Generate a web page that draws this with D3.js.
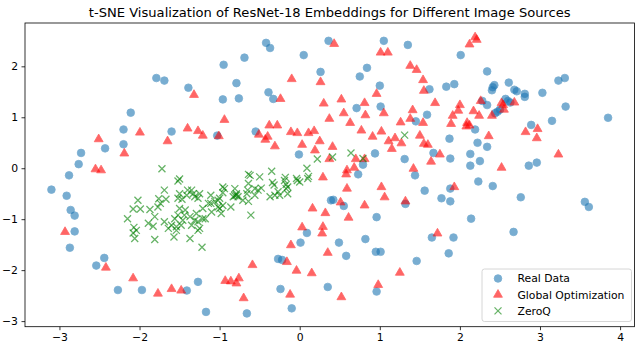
<!DOCTYPE html>
<html>
<head>
<meta charset="utf-8">
<script src="https://cdn.jsdelivr.net/npm/d3@7"></script>
<style>
  body { margin: 0; background: #fff; }
  text { font-family: "DejaVu Sans", sans-serif; fill: #000; }
</style>
</head>
<body>
<div id="chart"></div>
<script>
var width = 640;
var height = 348;
var margin = {left: 25, right: 5.5, top: 23, bottom: 21.3};

var title = "t-SNE Visualization of ResNet-18 Embeddings for Different Image Sources";
var seriesNames = ["Real Data", "Global Optimization", "ZeroQ"];
var xTicks = [-3, -2, -1, 0, 1, 2, 3, 4];
var yTicks = [-3, -2, -1, 0, 1, 2];

// Real Data embeddings
var realData = [
  [-1.79,1.77],[-1.69,1.72],[-2.11,1.09],[-2.20,0.76],[-1.60,0.72],[-2.43,0.39],[-2.20,0.47],[-2.73,0.30],[-2.76,0.08],[-2.88,-0.14],
  [-0.42,2.46],[-0.37,2.36],[0.36,2.50],[-0.69,2.17],[-0.95,2.03],[0.05,2.22],[0.26,1.89],[-1.39,1.58],[-0.79,1.67],[-0.39,1.49],
  [-0.33,1.36],[-0.96,1.35],[-0.76,1.37],[-0.55,0.72],[-1.03,0.64],[-0.01,0.27],
  [1.05,2.50],[1.35,2.42],[2.01,2.22],[0.84,1.97],[0.75,1.80],[1.00,1.62],[1.62,1.55],[1.83,1.60],[1.93,1.65],[0.71,1.18],
  [1.01,1.21],[1.59,1.05],[1.45,0.92],[2.19,0.76],[1.87,0.58],[2.22,0.50],[0.94,0.29],[1.67,0.30],[1.31,0.18],[1.88,0.19],
  [2.13,0.28],[2.25,0.14],[2.13,0.05],[0.79,0.07],[0.73,-0.12],[1.44,-0.14],[2.23,-0.26],
  [2.34,1.90],[3.23,1.72],[3.31,1.77],[2.43,1.63],[2.41,1.59],[2.40,1.53],[2.61,1.68],[2.68,1.54],[2.71,1.51],[2.81,1.46],
  [2.81,1.40],[3.03,1.48],[2.57,1.36],[2.60,1.32],[2.63,1.29],[2.28,1.32],[2.34,1.24],[3.32,1.21],[2.50,1.15],[2.47,1.11],
  [2.44,1.08],[3.85,0.99],[3.15,0.93],[2.89,0.85],[2.34,0.42],[2.86,0.05],[2.96,0.11],
  [-3.10,-0.42],[-2.91,-0.54],[-2.86,-0.82],[-2.81,-0.93],[-2.81,-1.24],[-2.87,-1.56],[-2.44,-1.76],[-2.54,-1.91],[-2.27,-2.39],[-1.97,-2.39],
  [0.39,-0.63],[0.09,-1.27],[0.01,-1.46],[-0.27,-1.78],[-0.22,-1.80],[-1.27,-2.23],[-1.41,-2.40],[-0.24,-2.37],[0.35,-2.33],[-1.17,-2.82],
  [-0.66,-2.85],[-0.10,-2.75],
  [1.56,-0.44],[1.88,-0.40],[0.42,-0.62],[0.55,-0.74],[1.77,-0.59],[1.88,-0.65],[1.32,-0.70],[0.96,-0.96],[2.14,-0.99],[0.82,-1.39],
  [0.49,-1.46],[1.65,-1.36],[1.92,-1.36],[0.58,-1.72],[0.95,-1.64],[1.01,-1.64],[1.86,-1.67],[1.46,-1.82],[0.96,-2.42],
  [2.41,-0.35],[2.76,-0.57],[2.67,-1.25],[3.56,-0.66],[3.61,-0.76]
];

// Global Optimization embeddings
var globalOpt = [
  [-2.51,0.57],[-1.995,0.70],[-1.65,0.53],[-2.19,0.29],[-2.55,-0.02],[-2.48,-0.04],
  [-1.32,1.44],[-0.10,1.75],[0.26,1.69],[-0.24,1.36],[0.30,1.27],[0.37,0.97],[-0.94,0.95],[-1.40,0.78],[-1.27,0.73],[-1.21,0.64],
  [-1.01,0.63],[-0.38,0.84],[-0.28,0.84],[-0.51,0.66],[-0.40,0.62],[-0.43,0.56],[-0.31,0.43],[-0.11,0.71],[-0.03,0.69],[0.11,0.69],
  [0.18,0.73],[0.25,0.53],[0.03,0.46],[0.19,0.35],[0.29,-0.18],
  [0.43,2.44],[1.01,2.27],[1.10,2.27],[2.19,2.57],[2.21,2.52],[2.12,2.43],[1.38,2.01],[1.46,1.93],[1.54,1.73],[1.55,1.52],
  [0.96,1.46],[0.52,1.35],[0.81,1.28],[1.69,1.28],[2.00,1.24],[1.98,1.13],[2.26,1.32],[0.55,1.08],[0.82,1.04],[1.05,1.08],
  [1.41,1.14],[1.38,0.97],[2.17,1.12],[2.24,1.03],[1.91,1.03],[1.89,0.87],[0.63,0.89],[1.26,0.90],[1.54,0.89],[2.09,0.89],
  [2.08,0.82],[2.12,0.84],[0.77,0.74],[1.02,0.72],[0.91,0.62],[1.50,0.64],[1.19,0.59],[1.11,0.53],[1.27,0.49],[1.55,0.48],
  [1.60,0.46],[1.15,0.38],[0.41,0.42],[1.75,0.27],[1.64,0.13],[0.70,0.18],[0.81,0.18],[0.37,0.18],[0.68,0.01],[0.59,-0.04],
  [0.58,-0.12],[1.42,-0.01],
  [2.52,1.28],[2.54,1.24],[2.55,1.15],[2.68,1.29],[2.40,1.03],[2.36,0.63],[2.82,0.71],[2.97,0.77],[2.96,0.59],[3.23,0.27],[2.52,0.01],
  [-2.93,-1.25],[-2.42,-1.95],[-2.08,-2.16],[-1.77,-2.46],[-1.60,-2.37],[-1.48,-2.40],
  [0.16,-0.79],[0.32,-0.88],[0.03,-1.16],[0.29,-1.15],[0.28,-1.28],[-0.11,-1.51],[0.35,-1.66],[-0.59,-1.90],[-0.16,-1.84],[-0.04,-2.01],
  [0.15,-2.06],[-0.93,-2.21],[-0.86,-2.22],[-0.79,-2.26],[-0.76,-2.16],[-0.70,-2.55],[-0.12,-2.48],
  [0.59,-0.40],[1.02,-0.37],[1.06,-0.57],[1.93,-0.37],[0.51,-0.67],[0.81,-0.73],[1.32,-0.65],[0.61,-0.97],[1.72,-1.28],[1.25,-2.05],
  [0.98,-2.29],[0.52,-2.53]
];

// ZeroQ embeddings
var zeroQ = [
  [-1.72,-0.01],[-1.52,-0.25],[-1.69,-0.43],[-2.02,-0.63],[-1.76,-0.60],[-1.67,-0.61],[-1.74,-0.69],[-2.08,-0.80],[-1.99,-0.80],[-1.87,-0.81],
  [-1.77,-0.76],[-2.15,-0.99],[-1.81,-0.95],[-1.89,-1.08],[-1.83,-1.14],[-2.07,-1.16],[-2.04,-1.22],[-2.08,-1.27],[-2.06,-1.38],[-1.81,-1.40],
  [-1.57,-1.35],[-1.37,-1.38],[-1.22,-1.55],[-1.52,-0.59],[-1.56,-0.99],[-1.69,-1.05],[-1.60,-1.12],[-1.54,-1.15],
  [-1.50,-0.50],[-1.47,-0.61],[-1.41,-0.53],[-1.35,-0.43],[-1.31,-0.56],[-1.25,-0.50],[-1.43,-0.82],[-1.52,-0.92],[-1.37,-0.95],[-1.29,-0.89],
  [-1.21,-0.79],[-1.14,-0.69],[-1.00,-0.59],[-1.48,-1.12],[-1.35,-1.12],[-1.64,-1.18],[-1.46,-1.02],[-1.27,-1.05],[-1.18,-0.99],[-1.10,-0.86],
  [-1.02,-0.76],[-0.96,-0.73],[-1.54,-1.22],[-1.27,-1.22],
  [-1.50,-0.79],[-1.44,-0.92],[-1.31,-1.02],[-1.25,-1.18],[-1.21,-0.99],[-1.40,-0.43],[-1.33,-0.50],[-1.27,-0.59],[-1.11,-0.69],[-1.06,-0.65],
  [-1.02,-0.63],[-1.00,-0.79],[-0.98,-0.89],[-0.94,-0.40],[-0.96,-0.48],[-0.79,-0.50],[-0.81,-0.54],[-0.77,-0.56],[-0.86,-0.76],[-0.65,-0.43],
  [-0.64,-0.65],[-0.61,-0.92],[-0.50,-0.17],[-0.56,-0.40],[-0.52,-0.43],[-0.48,-0.39],[-0.34,-0.28],[-0.32,-0.33],[-0.19,-0.24],[-0.17,-0.32],
  [-0.15,-0.37],[-0.03,-0.24],[0.00,-0.27],[0.10,-0.20],[-1.11,-0.53],
  [0.22,0.18],[0.09,0.00],[0.11,-0.16],[-0.64,-0.12],[-0.35,-0.06],[-0.18,-0.18],[-0.04,-0.20],[-1.50,-0.21],
  [1.31,0.65],[0.64,0.30],[0.41,0.22],[0.79,0.19],[-0.62,-0.14],[-0.64,-0.30],[-0.81,-0.40],[-0.79,-0.53],[-0.83,-0.56],[-0.96,-0.37],
  [-0.27,-0.46],[-0.17,-0.40],[-0.15,-0.50],[-0.66,-0.50],[-0.56,-0.53],[-0.71,-0.63],[-0.37,-0.56],[-0.31,-0.53],[-0.25,-0.53]
];

var colors = ["#1f77b4", "#ff0000", "#008000"];
var alpha = 0.6;

var svg = d3.select("#chart").append("svg")
  .attr("width", width)
  .attr("height", height);

var plotW = width - margin.left - margin.right;
var plotH = height - margin.top - margin.bottom;

var xScale = d3.scaleLinear().domain([-3.43, 4.18]).range([0, plotW]);
var yScale = d3.scaleLinear().domain([-3.11, 2.85]).range([plotH, 0]);

var g = svg.append("g")
  .attr("transform", "translate(" + margin.left + "," + margin.top + ")");

// marker shapes
var circlePath = d3.symbol().type(d3.symbolCircle).size(46)();
var trianglePath = d3.symbol().type(d3.symbolTriangle).size(34)();
var crossPath = "M-3.5,-3.5L3.5,3.5M-3.5,3.5L3.5,-3.5";

function drawSeries(data, path, color, isLine) {
  g.append("g").selectAll("path")
    .data(data)
    .enter().append("path")
    .attr("d", path)
    .attr("transform", function(d) { return "translate(" + xScale(d[0]) + "," + yScale(d[1]) + ")"; })
    .attr("fill", isLine ? "none" : color)
    .attr("stroke", color)
    .attr("stroke-width", isLine ? 1.3 : 0.8)
    .attr("opacity", alpha);
}

drawSeries(realData, circlePath, colors[0], false);
drawSeries(globalOpt, trianglePath, colors[1], false);
drawSeries(zeroQ, crossPath, colors[2], true);

// axes
var fmt = d3.format("d");
var xAxis = g.append("g")
  .attr("transform", "translate(0," + plotH + ")")
  .call(d3.axisBottom(xScale).tickValues(xTicks).tickFormat(fmt).tickSize(3.5).tickPadding(3.5));
var yAxis = g.append("g")
  .call(d3.axisLeft(yScale).tickValues(yTicks).tickFormat(fmt).tickSize(3.5).tickPadding(3.5));

[xAxis, yAxis].forEach(function(a) {
  a.select(".domain").remove();
  a.selectAll("line").attr("stroke", "#000").attr("stroke-width", 0.8);
  a.selectAll("text").attr("font-family", "DejaVu Sans").attr("font-size", 10.8).attr("fill", "#000");
});

// frame
g.append("rect")
  .attr("width", plotW)
  .attr("height", plotH)
  .attr("fill", "none")
  .attr("stroke", "#000")
  .attr("stroke-width", 0.8);

// title
svg.append("text")
  .attr("x", margin.left + plotW / 2)
  .attr("y", 16.5)
  .attr("text-anchor", "middle")
  .attr("font-size", 13.1)
  .text(title);

// legend
var legend = svg.append("g").attr("transform", "translate(482,269)");
legend.append("rect")
  .attr("width", 149.5)
  .attr("height", 52.5)
  .attr("rx", 2.5)
  .attr("fill", "#fff")
  .attr("fill-opacity", 0.8)
  .attr("stroke", "#cccccc")
  .attr("stroke-width", 0.8);

var legendShapes = [circlePath, trianglePath, crossPath];
seriesNames.forEach(function(name, i) {
  var row = legend.append("g").attr("transform", "translate(16," + (9.5 + i * 16.2) + ")");
  row.append("path")
    .attr("d", legendShapes[i])
    .attr("fill", i == 2 ? "none" : colors[i])
    .attr("stroke", colors[i])
    .attr("stroke-width", i == 2 ? 1.3 : 0.8)
    .attr("opacity", alpha);
  row.append("text")
    .attr("x", 19.5)
    .attr("dy", "0.36em")
    .attr("font-size", 10.8)
    .text(name);
});
</script>
</body>
</html>
